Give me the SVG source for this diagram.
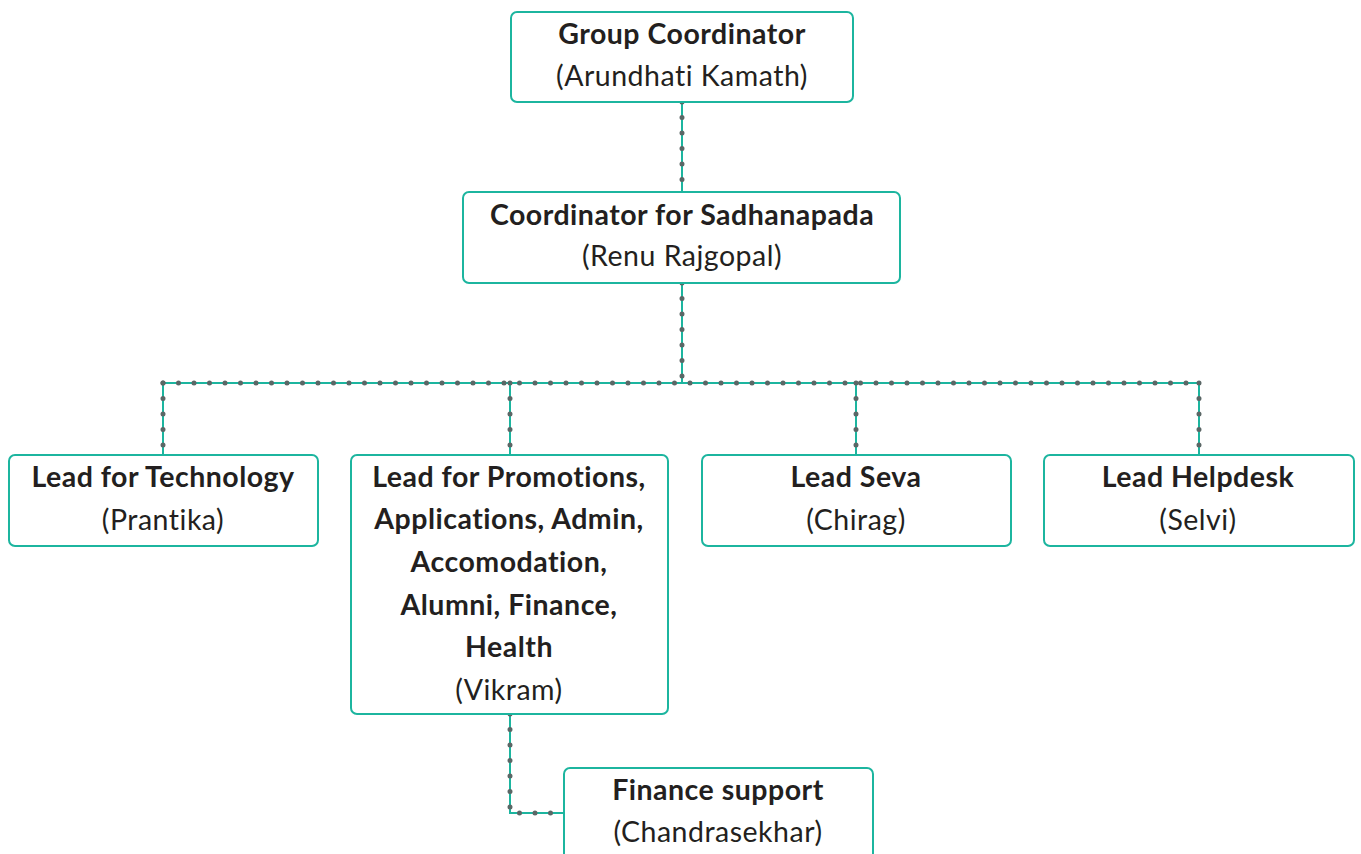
<svg xmlns="http://www.w3.org/2000/svg" width="1361" height="854" viewBox="0 0 1361 854">
<style>
.box{fill:#fff;stroke:#1cb59f;stroke-width:2}
.t{font-family:Lato,"Open Sans",sans-serif;font-size:28.5px;letter-spacing:0.5px;fill:#231f20;text-anchor:middle}
.b{font-weight:bold}
.ln{fill:none;stroke:#1cb59f;stroke-width:2}
.dt{fill:none;stroke:#5b6766;stroke-width:5;stroke-linecap:round;stroke-dasharray:0 15.5}
</style>
<rect width="1361" height="854" fill="#fff"/>
<g id="connectors">
<path class="ln" d="M682 102V192M682 283V383M163 383H1199M163 383V455M510 383V455M856 383V455M1199 383V455M510 714V813H564"/>
<path class="dt" d="M682 102V192"/>
<path class="dt" d="M682 283V383"/>
<path class="dt" d="M163 383H1199"/>
<path class="dt" d="M163 383V455"/>
<path class="dt" d="M510 383V455"/>
<path class="dt" d="M856 383V455"/>
<path class="dt" d="M1199 383V455"/>
<path class="dt" d="M510 714V813H564"/>
</g>
<g id="group-coordinator">
<rect class="box" x="511" y="12" width="342" height="90" rx="6"/>
<text class="t b" x="682" y="44">Group Coordinator</text>
<text class="t" x="682" y="86">(Arundhati Kamath)</text>
</g>
<g id="coordinator-sadhanapada">
<rect class="box" x="463" y="192" width="437" height="91" rx="6"/>
<text class="t b" x="682" y="225">Coordinator for Sadhanapada</text>
<text class="t" x="682" y="266">(Renu Rajgopal)</text>
</g>
<g id="lead-technology">
<rect class="box" x="9" y="455" width="309" height="91" rx="6"/>
<text class="t b" x="163" y="487">Lead for Technology</text>
<text class="t" x="163" y="530">(Prantika)</text>
</g>
<g id="lead-promotions">
<rect class="box" x="351" y="455" width="317" height="259" rx="6"/>
<text class="t b" x="509" y="487">Lead for Promotions,</text>
<text class="t b" x="509" y="529">Applications, Admin,</text>
<text class="t b" x="509" y="572">Accomodation,</text>
<text class="t b" x="509" y="615">Alumni, Finance,</text>
<text class="t b" x="509" y="657">Health</text>
<text class="t" x="509" y="700">(Vikram)</text>
</g>
<g id="lead-seva">
<rect class="box" x="702" y="455" width="309" height="91" rx="6"/>
<text class="t b" x="856" y="487">Lead Seva</text>
<text class="t" x="856" y="530">(Chirag)</text>
</g>
<g id="lead-helpdesk">
<rect class="box" x="1044" y="455" width="310" height="91" rx="6"/>
<text class="t b" x="1198" y="487">Lead Helpdesk</text>
<text class="t" x="1198" y="530">(Selvi)</text>
</g>
<g id="finance-support">
<rect class="box" x="564" y="768" width="309" height="100" rx="6"/>
<text class="t b" x="718" y="800">Finance support</text>
<text class="t" x="718" y="842">(Chandrasekhar)</text>
</g>
</svg>
